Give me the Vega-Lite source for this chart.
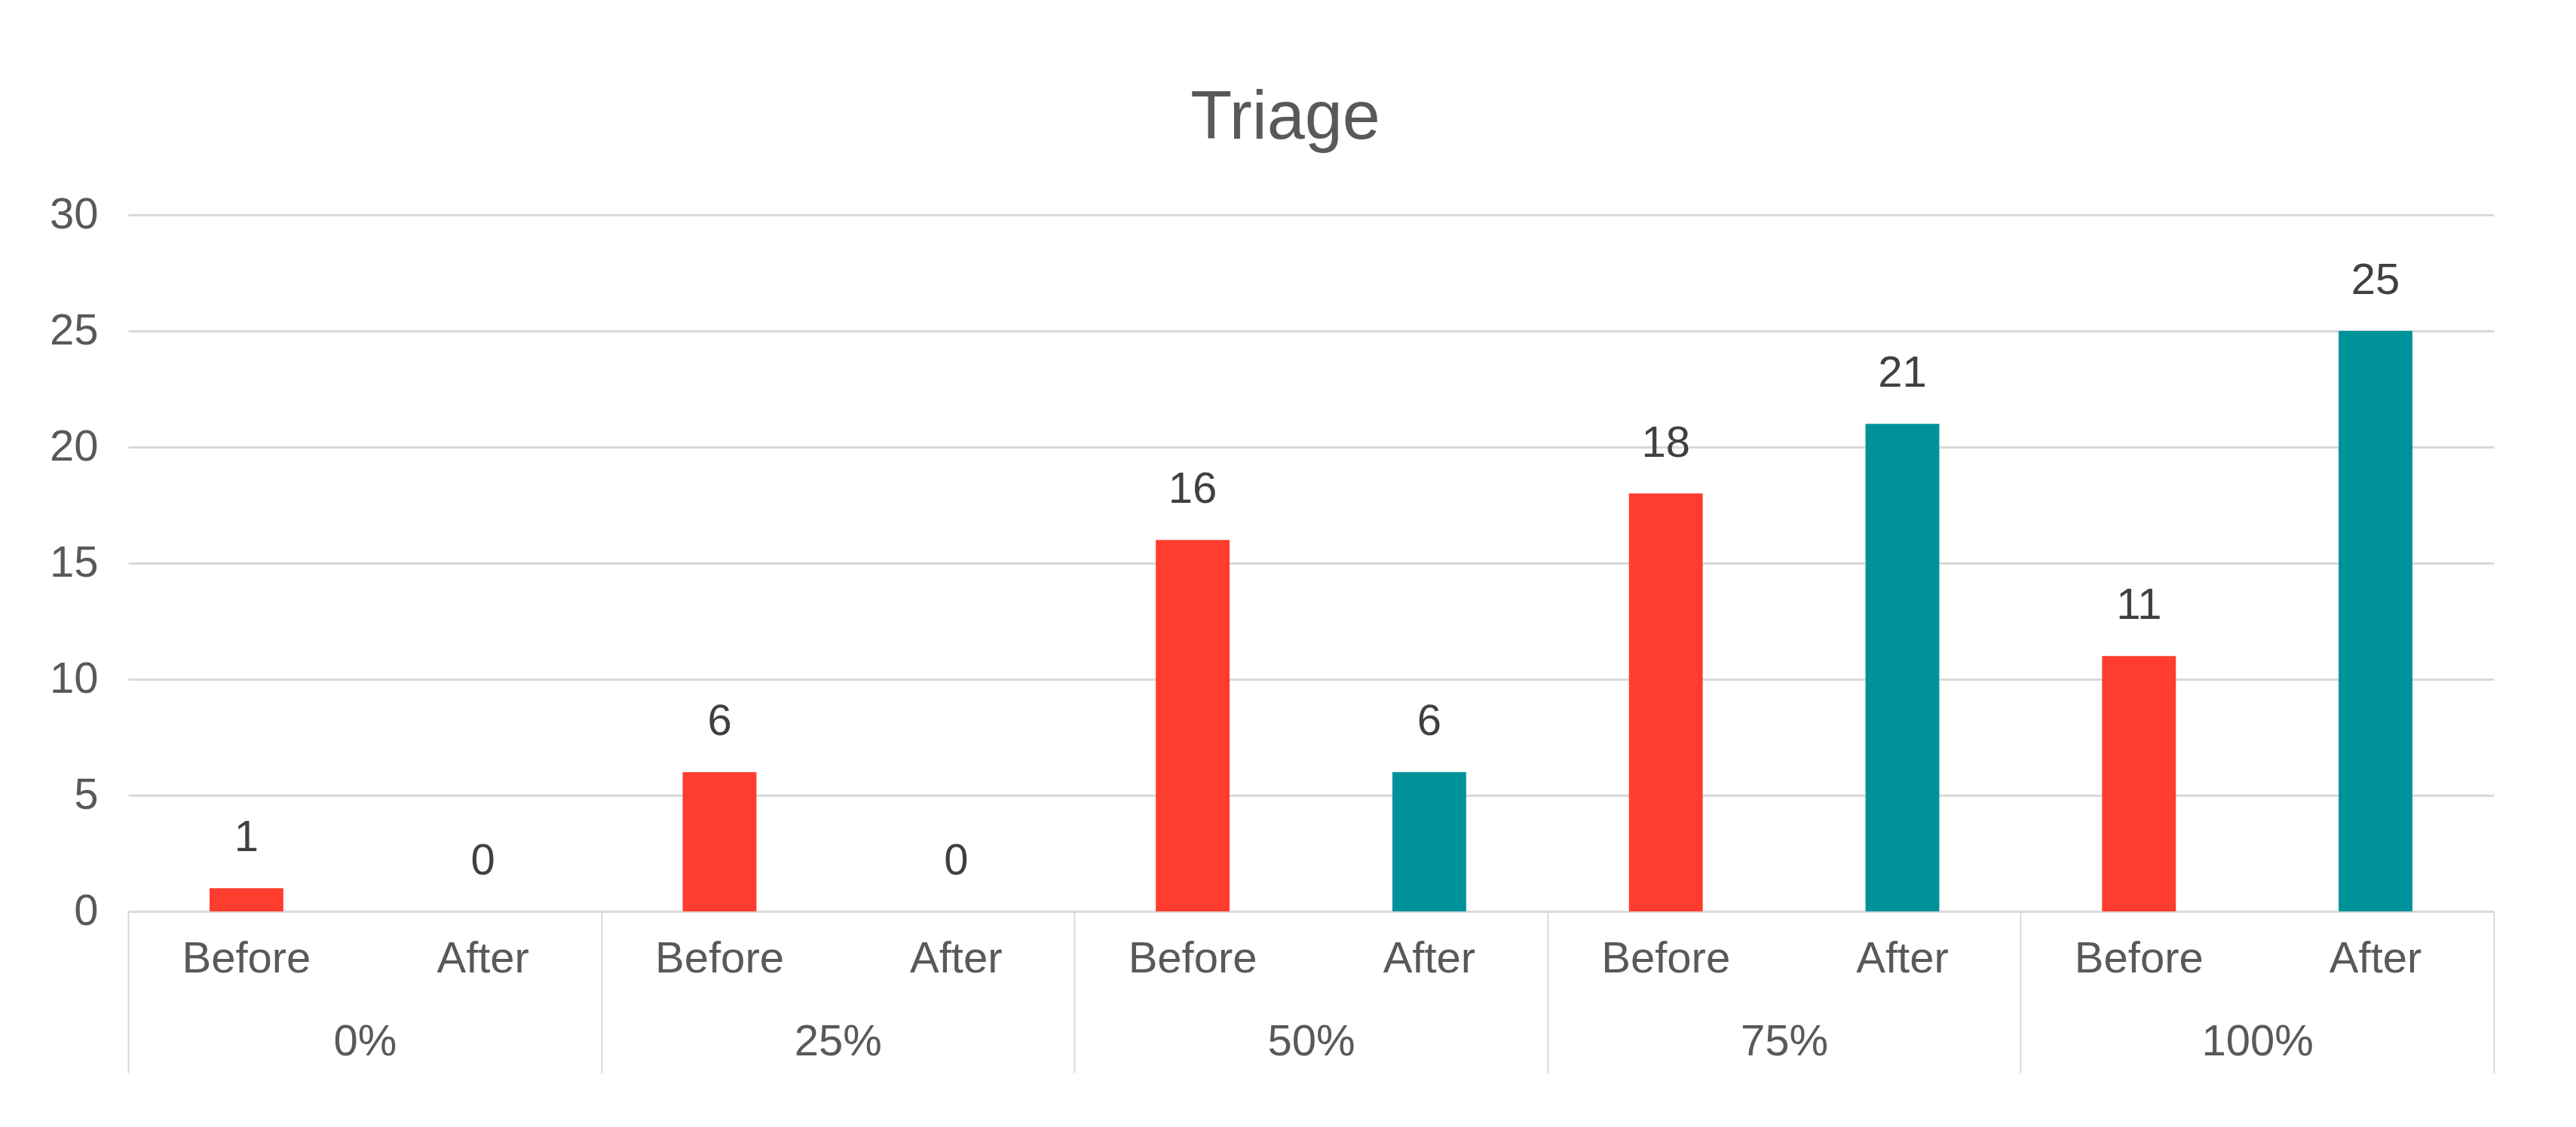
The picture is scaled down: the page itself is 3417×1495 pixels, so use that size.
{
  "$schema": "https://vega.github.io/schema/vega-lite/v6.json",
  "autosize": {"type": "none"},
  "width": 3138,
  "height": 924,
  "padding": {"left": 170, "top": 285, "right": 109, "bottom": 286},
  "background": "#ffffff",
  "config": {
    "view": {"stroke": null},
    "font": "Liberation Sans Narrow, Arial Narrow, Liberation Sans, Arial, sans-serif"
  },
  "title": {
    "text": "Triage",
    "fontSize": 90,
    "fontWeight": "normal",
    "color": "#595959",
    "anchor": "middle",
    "frame": "group",
    "baseline": "alphabetic",
    "offset": -18,
    "dx": -34
  },
  "data": {
    "values": [
      {"group": "0%", "phase": "Before", "value": 1},
      {"group": "0%", "phase": "After", "value": 0},
      {"group": "25%", "phase": "Before", "value": 6},
      {"group": "25%", "phase": "After", "value": 0},
      {"group": "50%", "phase": "Before", "value": 16},
      {"group": "50%", "phase": "After", "value": 6},
      {"group": "75%", "phase": "Before", "value": 18},
      {"group": "75%", "phase": "After", "value": 21},
      {"group": "100%", "phase": "Before", "value": 11},
      {"group": "100%", "phase": "After", "value": 25}
    ]
  },
  "encoding": {
    "x": {
      "field": "group",
      "type": "nominal",
      "sort": ["0%", "25%", "50%", "75%", "100%"],
      "scale": {"paddingInner": 0, "paddingOuter": 0},
      "axis": {
        "title": null,
        "orient": "bottom",
        "domain": false,
        "grid": false,
        "ticks": true,
        "tickBand": "extent",
        "tickSize": 214,
        "tickWidth": 2,
        "tickColor": "#D9D9D9",
        "labelAngle": 0,
        "labelBaseline": "middle",
        "labelPadding": -41,
        "labelFontSize": 58,
        "labelColor": "#595959"
      }
    },
    "xOffset": {
      "field": "phase",
      "type": "nominal",
      "sort": ["Before", "After"],
      "scale": {"paddingInner": 0.688, "paddingOuter": 0.344}
    }
  },
  "layer": [
    {
      "mark": {"type": "bar"},
      "encoding": {
        "y": {
          "field": "value",
          "type": "quantitative",
          "scale": {"domain": [0, 30], "nice": false},
          "axis": {
            "title": null,
            "values": [0, 5, 10, 15, 20, 25, 30],
            "domain": false,
            "ticks": false,
            "grid": true,
            "gridColor": "#D9D9D9",
            "gridWidth": 3,
            "labelPadding": 40,
            "labelFontSize": 58,
            "labelColor": "#595959"
          }
        },
        "color": {
          "field": "phase",
          "type": "nominal",
          "scale": {"domain": ["Before", "After"], "range": ["#FF3D2E", "#00929A"]},
          "legend": null
        }
      }
    },
    {
      "mark": {"type": "text", "baseline": "middle", "dy": -66, "fontSize": 58, "color": "#404040"},
      "encoding": {
        "y": {"field": "value", "type": "quantitative"},
        "text": {"field": "value", "type": "quantitative"}
      }
    },
    {
      "mark": {"type": "text", "baseline": "middle", "dy": 64, "fontSize": 58, "color": "#595959"},
      "encoding": {
        "y": {"datum": 0, "type": "quantitative"},
        "text": {"field": "phase", "type": "nominal"}
      }
    }
  ]
}
